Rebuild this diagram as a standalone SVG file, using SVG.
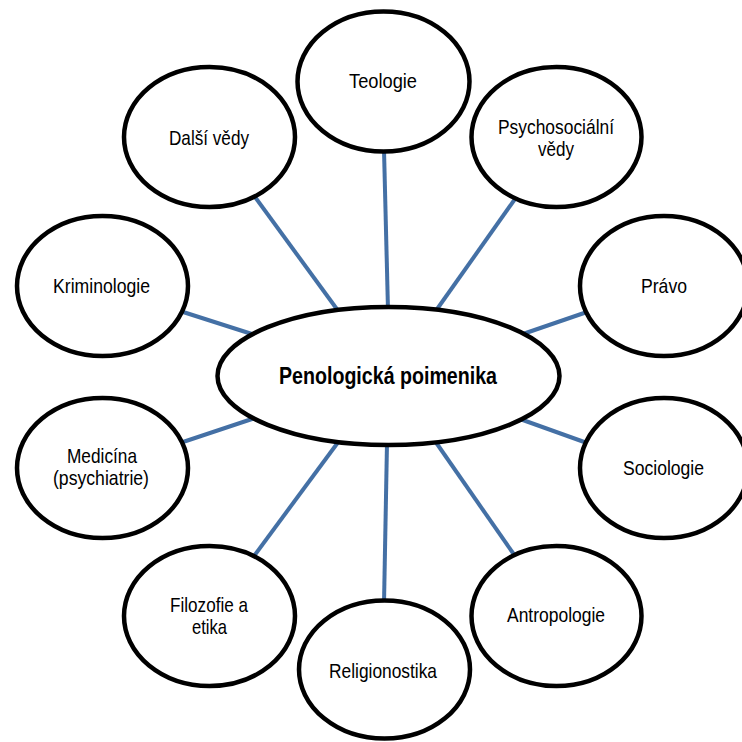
<svg xmlns="http://www.w3.org/2000/svg" width="742" height="742" viewBox="0 0 742 742">
<style>
.bg{fill:#ffffff}
.conn line{stroke:#4470A5;stroke-width:4;fill:none}
.node ellipse{fill:#ffffff;stroke:#000000;stroke-width:4.5}
.lbl{font-family:"Liberation Sans",Arial,sans-serif;font-size:21px;fill:#000000;text-anchor:middle}
.main{font-family:"Liberation Sans",Arial,sans-serif;font-size:24px;font-weight:bold;fill:#000000;text-anchor:middle}
</style>
<rect class="bg" x="0" y="0" width="742" height="742"/>
<g id="connectors" class="conn">
<line x1="384" y1="150" x2="388" y2="310"/>
<line x1="255" y1="197" x2="339" y2="312"/>
<line x1="515" y1="199" x2="435" y2="312"/>
<line x1="180" y1="311" x2="255" y2="335"/>
<line x1="587" y1="312" x2="520" y2="335"/>
<line x1="180" y1="443" x2="255" y2="418"/>
<line x1="587" y1="443" x2="520" y2="419"/>
<line x1="254" y1="556" x2="339" y2="441"/>
<line x1="515" y1="556" x2="435" y2="441"/>
<line x1="384" y1="604" x2="387" y2="443"/>
</g>
<g id="node-center" class="node">
<ellipse cx="388.5" cy="376" rx="171" ry="69"/>
<text class="main" x="388" y="384" textLength="218" lengthAdjust="spacingAndGlyphs">Penologická poimenika</text>
</g>
<g id="node-teologie" class="node">
<ellipse cx="383.5" cy="81.5" rx="86" ry="70"/>
<text class="lbl" x="383" y="88" textLength="68" lengthAdjust="spacingAndGlyphs">Teologie</text>
</g>
<g id="node-dalsi" class="node">
<ellipse cx="209.5" cy="137" rx="85.5" ry="70"/>
<text class="lbl" x="209" y="145" textLength="80" lengthAdjust="spacingAndGlyphs">Další vědy</text>
</g>
<g id="node-psycho" class="node">
<ellipse cx="556.5" cy="137" rx="85" ry="70"/>
<text class="lbl" x="556" y="134" textLength="116" lengthAdjust="spacingAndGlyphs">Psychosociální</text>
<text class="lbl" x="556" y="155.5" textLength="36" lengthAdjust="spacingAndGlyphs">vědy</text>
</g>
<g id="node-kriminologie" class="node">
<ellipse cx="102.5" cy="286" rx="85.5" ry="70"/>
<text class="lbl" x="101.5" y="293" textLength="97" lengthAdjust="spacingAndGlyphs">Kriminologie</text>
</g>
<g id="node-pravo" class="node">
<ellipse cx="664" cy="286" rx="84" ry="70"/>
<text class="lbl" x="664" y="292.5" textLength="46" lengthAdjust="spacingAndGlyphs">Právo</text>
</g>
<g id="node-medicina" class="node">
<ellipse cx="102.5" cy="468" rx="85.5" ry="70"/>
<text class="lbl" x="102" y="463" textLength="70" lengthAdjust="spacingAndGlyphs">Medicína</text>
<text class="lbl" x="101" y="484.5" textLength="96" lengthAdjust="spacingAndGlyphs">(psychiatrie)</text>
</g>
<g id="node-sociologie" class="node">
<ellipse cx="664" cy="468" rx="84" ry="70"/>
<text class="lbl" x="663.5" y="475" textLength="81" lengthAdjust="spacingAndGlyphs">Sociologie</text>
</g>
<g id="node-filozofie" class="node">
<ellipse cx="209.5" cy="616" rx="85.5" ry="70"/>
<text class="lbl" x="209" y="612" textLength="78" lengthAdjust="spacingAndGlyphs">Filozofie a</text>
<text class="lbl" x="209.5" y="633.5" textLength="35" lengthAdjust="spacingAndGlyphs">etika</text>
</g>
<g id="node-antropologie" class="node">
<ellipse cx="556.5" cy="616" rx="85" ry="70"/>
<text class="lbl" x="556" y="622" textLength="98" lengthAdjust="spacingAndGlyphs">Antropologie</text>
</g>
<g id="node-religionostika" class="node">
<ellipse cx="384.5" cy="669.5" rx="85.5" ry="69"/>
<text class="lbl" x="383" y="678" textLength="108" lengthAdjust="spacingAndGlyphs">Religionostika</text>
</g>
</svg>
